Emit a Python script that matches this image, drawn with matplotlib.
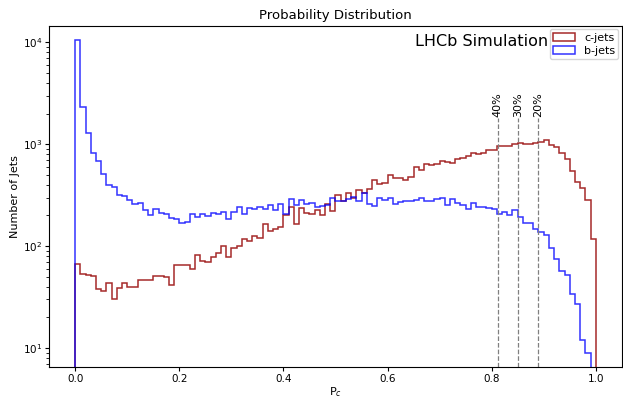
import numpy as np
import matplotlib
matplotlib.use("Agg")
import matplotlib.pyplot as plt

# ============================================================
# Histogram contents (100 bins on P_c in [0, 1])
# ============================================================

bin_edges = np.linspace(0, 1, 101)

c_jets = [
    67, 53, 52, 51, 38, 36, 43, 30, 39, 43,
    40, 40, 46, 46, 46, 51, 51, 50, 42, 65,
    65, 66, 60, 82, 72, 70, 78, 85, 100, 78,
    96, 100, 118, 112, 125, 120, 165, 140, 148, 155,
    200, 240, 165, 235, 210, 205, 228, 200, 260, 220,
    320, 280, 330, 300, 355, 330, 365, 450, 410, 420,
    500, 470, 465, 450, 480, 600, 560, 640, 620, 637,
    686, 670, 648, 718, 735, 762, 822, 810, 830, 873,
    887, 961, 961, 970, 1016, 1040, 1016, 1016, 1020, 1060,
    1090, 990, 950, 820, 710, 545, 425, 375, 285, 118,
]

b_jets = [
    10600, 2320, 1290, 830, 680, 508, 400, 380, 320, 314,
    282, 258, 266, 225, 201, 234, 212, 209, 190, 183,
    167, 171, 206, 194, 209, 197, 212, 209, 217, 183,
    217, 243, 209, 239, 234, 243, 229, 256, 225, 262,
    209, 287, 254, 285, 262, 265, 240, 245, 255, 295,
    280, 278, 290, 305, 280, 335, 262, 250, 300, 285,
    298, 260, 272, 275, 276, 285, 300, 280, 275, 289,
    298, 252, 293, 266, 252, 229, 268, 243, 243, 239,
    229, 209, 217, 201, 225, 194, 169, 167, 146, 138,
    128, 95, 74, 57, 52, 34, 27, 12, 9, 0,
]

# efficiency working points
wp_cuts = [0.812, 0.851, 0.889]
wp_labels = ["40%", "30%", "20%"]

# ============================================================
# Figure
# ============================================================

fig = plt.figure(figsize=(6.23, 3.99), dpi=100)
ax = fig.add_axes([0.079, 0.08, 0.919, 0.855])

centres = bin_edges[:-1] + 0.005

ax.hist(centres, bins=bin_edges, weights=c_jets, histtype='step',
        color='brown', linewidth=1.1, label='c-jets')
ax.hist(centres, bins=bin_edges, weights=b_jets, histtype='step',
        color='blue', alpha=0.8, linewidth=1.1, label='b-jets')

ax.set_yscale('log')
ax.set_xlim(-0.05, 1.05)
ax.set_ylim(6.5, 14500)

# working point lines

for cut, lab in zip(wp_cuts, wp_labels):

    ax.vlines(cut, 6.5, 1800, colors='gray', linestyles='--', linewidth=0.9)

    ax.text(cut, 1850, lab, rotation=90, ha='center', va='bottom', fontsize=8)

ax.text(0.871, 0.975, "LHCb Simulation", transform=ax.transAxes,
        ha='right', va='top', fontsize=11.5)

ax.set_title("Probability Distribution", fontsize=9.5, pad=5)
ax.set_xlabel("P$_c$", fontsize=8, labelpad=1)
ax.set_ylabel("Number of Jets", fontsize=8, labelpad=2)
ax.tick_params(labelsize=7.5, length=3, pad=2)

ax.legend(loc='upper right', fontsize=8, handlelength=2.0,
          borderpad=0.3, labelspacing=0.3, borderaxespad=0.3)

fig.savefig("out.png", dpi=100)
